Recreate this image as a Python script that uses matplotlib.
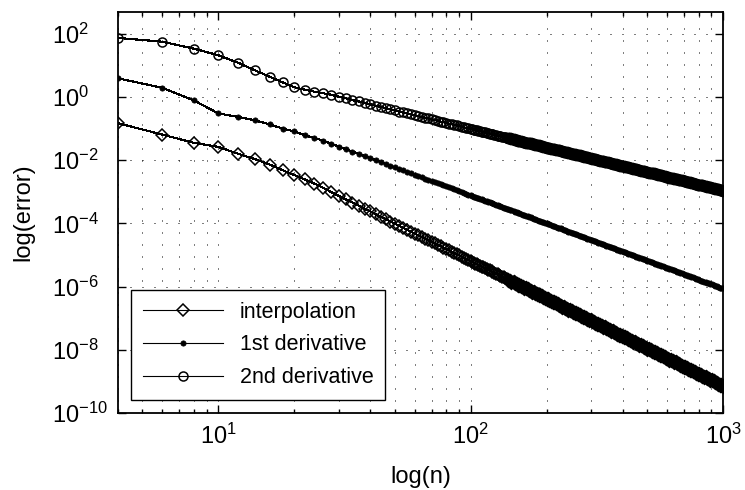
import numpy as np
import matplotlib
matplotlib.use("Agg")
import matplotlib.pyplot as plt
from matplotlib.ticker import LogLocator, NullFormatter

plt.rcParams['font.family'] = ['Liberation Sans', 'DejaVu Sans']
plt.rcParams['mathtext.fontset'] = 'custom'
plt.rcParams['mathtext.rm'] = 'Liberation Sans'
plt.rcParams['mathtext.it'] = 'Liberation Sans:italic'
plt.rcParams['font.size'] = 17

# n values: every even n up to 98, then the dense part of the curves
n_small = list(range(4, 100, 2))
n_large = [100, 103, 106, 109, 112, 116, 119, 122, 126, 130,
           133, 137, 141, 145, 150, 154, 158, 163, 168, 173,
           178, 183, 188, 194, 200, 205, 211, 218, 224, 230,
           237, 244, 251, 259, 266, 274, 282, 290, 299, 307,
           316, 325, 335, 345, 355, 365, 376, 387, 398, 410,
           422, 434, 447, 460, 473, 487, 501, 516, 531, 546,
           562, 579, 596, 613, 631, 649, 668, 688, 708, 729,
           750, 772, 794, 818, 841, 866, 891, 917, 944, 972, 1000]
n_mid = [101, 104, 107, 111, 114, 117, 121, 124, 128, 131,
         135, 139, 143, 148, 152, 156, 161, 165, 170, 175,
         180, 186, 191, 197, 202, 208, 214, 221, 227, 234,
         240, 248, 255, 262, 270, 278, 286, 294, 303, 312,
         321, 330, 340, 350, 360, 370, 381, 392, 404, 416,
         428, 440, 453, 466, 480, 494, 508, 523, 539, 554,
         570, 587, 604, 622, 640, 659, 678, 698, 718, 739,
         761, 783, 806, 829, 854, 879, 904, 931, 958, 986]

# log10 of the errors
log_err_interp = [
    -0.83, -1.19, -1.45, -1.58, -1.80, -1.97, -2.14, -2.32, -2.47, -2.61, -2.74, -2.87, -3.01, -3.13,
    -3.24, -3.34, -3.44, -3.54, -3.62, -3.71, -3.79, -3.86, -3.94, -4.01,
    -4.07, -4.14, -4.20, -4.26, -4.32, -4.38, -4.43, -4.48, -4.53, -4.58,
    -4.63, -4.68, -4.72, -4.77, -4.81, -4.85, -4.90, -4.94, -4.98, -5.01,
    -5.05, -5.09, -5.13, -5.16,
    -5.20, -5.24, -5.29, -5.34, -5.39, -5.44, -5.49, -5.54, -5.59, -5.64,
    -5.69, -5.74, -5.79, -5.84, -5.89, -5.94, -5.99, -6.03, -6.08, -6.13,
    -6.18, -6.23, -6.28, -6.33, -6.38, -6.43, -6.48, -6.53, -6.58, -6.63,
    -6.68, -6.73, -6.78, -6.82, -6.87, -6.92, -6.97, -7.02, -7.07, -7.12,
    -7.17, -7.22, -7.27, -7.32, -7.37, -7.42, -7.47, -7.52, -7.57, -7.61,
    -7.66, -7.71, -7.76, -7.81, -7.86, -7.91, -7.96, -8.01, -8.06, -8.11,
    -8.16, -8.21, -8.26, -8.31, -8.36, -8.40, -8.45, -8.50, -8.55, -8.60,
    -8.65, -8.70, -8.75, -8.80, -8.85, -8.90, -8.95, -9.00, -9.05, -9.10, -9.15]
log_err_interp_mid = [
    -5.22, -5.27, -5.32, -5.37, -5.42, -5.47, -5.52, -5.57, -5.61, -5.66,
    -5.71, -5.76, -5.81, -5.86, -5.91, -5.96, -6.01, -6.06, -6.11, -6.16,
    -6.21, -6.26, -6.31, -6.36, -6.40, -6.45, -6.50, -6.55, -6.60, -6.65,
    -6.70, -6.75, -6.80, -6.85, -6.90, -6.95, -7.00, -7.05, -7.10, -7.15,
    -7.19, -7.24, -7.29, -7.34, -7.39, -7.44, -7.49, -7.54, -7.59, -7.64,
    -7.69, -7.74, -7.79, -7.84, -7.89, -7.94, -7.98, -8.03, -8.08, -8.13,
    -8.18, -8.23, -8.28, -8.33, -8.38, -8.43, -8.48, -8.53, -8.58, -8.63,
    -8.68, -8.73, -8.77, -8.82, -8.87, -8.92, -8.97, -9.02, -9.07, -9.12]

log_err_d1 = [
    0.59, 0.29, -0.11, -0.52, -0.63, -0.74, -0.87, -1.00, -1.09, -1.21, -1.30, -1.38, -1.48, -1.57,
    -1.65, -1.73, -1.80, -1.87, -1.94, -2.00, -2.06, -2.12, -2.17, -2.23,
    -2.28, -2.32, -2.37, -2.42, -2.46, -2.50, -2.54, -2.58, -2.62, -2.66,
    -2.69, -2.73, -2.76, -2.79, -2.83, -2.86, -2.89, -2.92, -2.95, -2.98,
    -3.01, -3.03, -3.06, -3.09,
    -3.11, -3.15, -3.19, -3.22, -3.26, -3.30, -3.33, -3.37, -3.41, -3.44,
    -3.48, -3.52, -3.56, -3.59, -3.63, -3.67, -3.70, -3.74, -3.78, -3.81,
    -3.85, -3.89, -3.92, -3.96, -4.00, -4.03, -4.07, -4.11, -4.15, -4.18,
    -4.22, -4.26, -4.29, -4.33, -4.37, -4.40, -4.44, -4.48, -4.51, -4.55,
    -4.59, -4.62, -4.66, -4.70, -4.74, -4.77, -4.81, -4.85, -4.88, -4.92,
    -4.96, -4.99, -5.03, -5.07, -5.10, -5.14, -5.18, -5.22, -5.25, -5.29,
    -5.33, -5.36, -5.40, -5.44, -5.47, -5.51, -5.55, -5.58, -5.62, -5.66,
    -5.69, -5.73, -5.77, -5.81, -5.84, -5.88, -5.92, -5.95, -5.99, -6.03, -6.06]
log_err_d1_mid = [
    -3.13, -3.17, -3.20, -3.24, -3.28, -3.32, -3.35, -3.39, -3.43, -3.46,
    -3.50, -3.54, -3.57, -3.61, -3.65, -3.68, -3.72, -3.76, -3.80, -3.83,
    -3.87, -3.91, -3.94, -3.98, -4.02, -4.05, -4.09, -4.13, -4.16, -4.20,
    -4.24, -4.27, -4.31, -4.35, -4.39, -4.42, -4.46, -4.50, -4.53, -4.57,
    -4.61, -4.64, -4.68, -4.72, -4.75, -4.79, -4.83, -4.86, -4.90, -4.94,
    -4.98, -5.01, -5.05, -5.09, -5.12, -5.16, -5.20, -5.23, -5.27, -5.31,
    -5.34, -5.38, -5.42, -5.45, -5.49, -5.53, -5.57, -5.60, -5.64, -5.68,
    -5.71, -5.75, -5.79, -5.82, -5.86, -5.90, -5.93, -5.97, -6.01, -6.04]

log_err_d2 = [
    1.87, 1.75, 1.53, 1.32, 1.08, 0.84, 0.64, 0.46, 0.31, 0.23, 0.17, 0.12, 0.07, 0.01,
    -0.04, -0.10, -0.14, -0.19, -0.23, -0.28, -0.31, -0.35, -0.39, -0.42,
    -0.46, -0.49, -0.52, -0.55, -0.58, -0.61, -0.63, -0.66, -0.68, -0.71,
    -0.73, -0.75, -0.78, -0.80, -0.82, -0.84, -0.86, -0.88, -0.90, -0.92,
    -0.94, -0.96, -0.98, -0.99,
    -1.01, -1.03, -1.06, -1.08, -1.11, -1.13, -1.16, -1.18, -1.21, -1.23,
    -1.25, -1.28, -1.30, -1.33, -1.35, -1.38, -1.40, -1.42, -1.45, -1.47,
    -1.50, -1.52, -1.55, -1.57, -1.60, -1.62, -1.64, -1.67, -1.69, -1.72,
    -1.74, -1.77, -1.79, -1.81, -1.84, -1.86, -1.89, -1.91, -1.94, -1.96,
    -1.99, -2.01, -2.03, -2.06, -2.08, -2.11, -2.13, -2.16, -2.18, -2.20,
    -2.23, -2.25, -2.28, -2.30, -2.33, -2.35, -2.38, -2.40, -2.42, -2.45,
    -2.47, -2.50, -2.52, -2.55, -2.57, -2.59, -2.62, -2.64, -2.67, -2.69,
    -2.72, -2.74, -2.77, -2.79, -2.81, -2.84, -2.86, -2.89, -2.91, -2.94, -2.96]
log_err_d2_mid = [
    -1.02, -1.05, -1.07, -1.10, -1.12, -1.14, -1.17, -1.19, -1.22, -1.24,
    -1.27, -1.29, -1.31, -1.34, -1.36, -1.39, -1.41, -1.44, -1.46, -1.49,
    -1.51, -1.53, -1.56, -1.58, -1.61, -1.63, -1.66, -1.68, -1.70, -1.73,
    -1.75, -1.78, -1.80, -1.83, -1.85, -1.88, -1.90, -1.92, -1.95, -1.97,
    -2.00, -2.02, -2.05, -2.07, -2.09, -2.12, -2.14, -2.17, -2.19, -2.22,
    -2.24, -2.27, -2.29, -2.31, -2.34, -2.36, -2.39, -2.41, -2.44, -2.46,
    -2.48, -2.51, -2.53, -2.56, -2.58, -2.61, -2.63, -2.66, -2.68, -2.70,
    -2.73, -2.75, -2.78, -2.80, -2.83, -2.85, -2.87, -2.90, -2.92, -2.95]

labels = ['interpolation', '1st derivative', '2nd derivative']

n = np.array(n_small + n_large + n_mid)
order = np.argsort(n, kind='stable')
n = n[order]
err_interp = 10.0 ** np.array(log_err_interp + log_err_interp_mid)[order]
err_d1 = 10.0 ** np.array(log_err_d1 + log_err_d1_mid)[order]
err_d2 = 10.0 ** np.array(log_err_d2 + log_err_d2_mid)[order]

fig = plt.figure(figsize=(7.45, 4.9), dpi=100)
ax = fig.add_axes([118 / 745, 1 - 413 / 490, 605 / 745, 401 / 490])

style = dict(linestyle='-', color='k', lw=0.8, mec='k', antialiased=False)
ax.loglog(n, err_interp, marker='D', ms=6.0, mfc='none', mew=1.1,
          label=labels[0], **style)
ax.loglog(n, err_d1, marker='o', ms=3.8, mfc='k', mew=0.5,
          label=labels[1], **style)
ax.loglog(n, err_d2, marker='o', ms=6.5, mfc='none', mew=1.1,
          label=labels[2], **style)

# where the markers pile up they merge into a solid band
dense = n >= 140
ax.loglog(n[dense], err_interp[dense], linestyle='none', marker='D', ms=6.0,
          mfc='none', mec='k', mew=2.0)
ax.loglog(n[dense], err_d2[dense], linestyle='none', marker='o', ms=6.5,
          mfc='none', mec='k', mew=2.0)

ax.set_xlim(4, 1000)
ax.set_ylim(1e-10, 10 ** 2.69)
ax.set_yticks([10.0 ** e for e in range(-10, 3, 2)])
ax.yaxis.set_minor_locator(plt.NullLocator())
ax.xaxis.set_minor_locator(LogLocator(base=10, subs=np.arange(2, 10)))
ax.xaxis.set_minor_formatter(NullFormatter())

ax.grid(True, which='major', color='k', lw=0.72, linestyle=(0, (1, 11)))
ax.grid(True, which='minor', axis='x', color='k', lw=0.72, linestyle=(0, (1, 11)))

ax.tick_params(which='both', direction='in', top=True, right=True, width=1)
ax.tick_params(which='major', length=5.5)
ax.tick_params(which='minor', length=3)
ax.tick_params(axis='x', pad=8)
ax.tick_params(axis='y', pad=47.5)
plt.setp(ax.get_yticklabels(), ha='left')
for s in ax.spines.values():
    s.set_linewidth(1.3)

ax.set_xlabel('log(n)', labelpad=12)
ax.set_ylabel('log(error)', labelpad=13)

leg = ax.legend(loc='lower left', bbox_to_anchor=(0.0215, 0.032), borderaxespad=0,
                fancybox=False, framealpha=1, edgecolor='k', fontsize=15.5,
                handlelength=3.7, handletextpad=0.8, labelspacing=0.55, borderpad=0.55)
leg.get_frame().set_linewidth(1.0)

fig.savefig('out.png', dpi=100)
